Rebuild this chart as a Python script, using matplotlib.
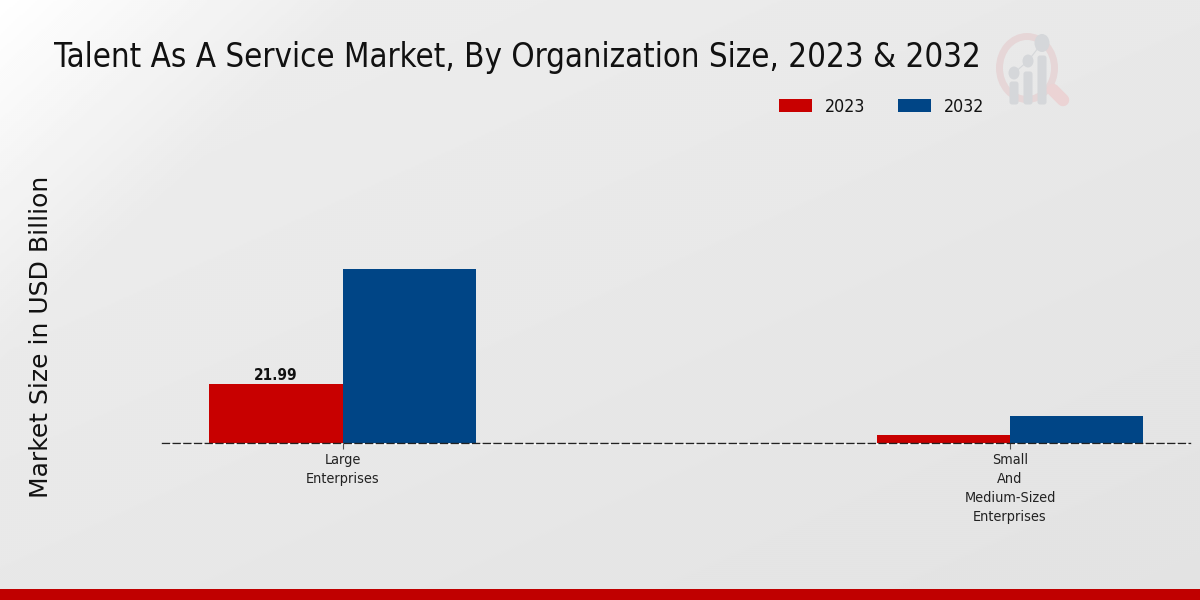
import numpy as np
import matplotlib
matplotlib.use('Agg')
import matplotlib.pyplot as plt
from matplotlib.patches import Ellipse, Rectangle, FancyBboxPatch

# datos
categorias = ['Large\nEnterprises', 'Small\nAnd\nMedium-Sized\nEnterprises']
valores_2023 = [21.99, 3.0]
valores_2032 = [64.9, 10.0]
etiquetas_valor_2023 = ['21.99', None]
anios = ['2023', '2032']
colores = ['#c80000', '#004586']

W, H = 1200, 600
fig = plt.figure(figsize=(W / 100, H / 100), dpi=100)

# fondo con degradado
fondo = fig.add_axes([0, 0, 1, 1], zorder=0)
fondo.axis('off')
yy, xx = np.mgrid[0:1:300j, 0:1:600j]
d = (xx * 2 + yy) / 3
grad = np.where(d < 0.2, 1.0 - (d / 0.2) * 0.075, 0.925 - (d - 0.2) * 0.03)
grad = grad - yy * 0.012
fondo.imshow(grad, extent=[0, W, H, 0], cmap='gray', vmin=0, vmax=1, aspect='auto', interpolation='bilinear')
fondo.set_xlim(0, W)
fondo.set_ylim(H, 0)

# barra inferior
fondo.add_patch(Rectangle((0, 589), W, 11, color='#c00000', lw=0))

# logo de marca de agua
fondo.plot([1053, 1063], [90, 100], color='#ebd3d4', lw=9, solid_capstyle='round')
fondo.add_patch(Ellipse((1027, 68), 55, 63, fill=False, ec='#e6d6d7', lw=5))
for x, y_top, y_c, w_c, h_c in [(1014, 84, 73, 11, 13), (1028, 74, 61, 11, 13), (1042, 58, 43, 15, 18)]:
    fondo.add_patch(FancyBboxPatch((x - 2, y_top), 4, 102 - y_top, boxstyle='round,pad=2.5',
                                   color='#d5d7da', lw=0))
    fondo.add_patch(Ellipse((x, y_c), w_c, h_c, color='#d5d7da', lw=0))
fondo.plot([1014, 1028, 1042], [73, 61, 43], color='#d5d7da', lw=0.8)

# linea clara bajo la base
fondo.plot([162, 1190], [444, 444], color='white', lw=0.8)

# ejes principales
ax = fig.add_axes([162 / W, 1 - 443 / H, (1190 - 162) / W, (443 - 130) / H], zorder=1)
ax.patch.set_alpha(0)
pos = np.arange(len(categorias))
ancho = 0.2
b1 = ax.bar(pos - ancho / 2, valores_2023, ancho, color=colores[0], label=anios[0])
b2 = ax.bar(pos + ancho / 2, valores_2032, ancho, color=colores[1], label=anios[1])
ax.set_xlim(-0.2708, 1.2697)
ax.set_ylim(0, 116.7)

for rect, etiqueta in zip(b1, etiquetas_valor_2023):
    if etiqueta:
        ax.annotate(etiqueta, (rect.get_x() + rect.get_width() / 2, rect.get_height()),
                    xytext=(0, 1), textcoords='offset points', ha='center', va='bottom',
                    fontsize=11, fontweight='bold', stretch='condensed', color='#111111')

ax.set_xticks(pos)
ax.set_xticklabels(categorias, fontsize=10.4, stretch='condensed', color='#222222', linespacing=1.45)
ax.tick_params(axis='x', length=4, width=0.8, color='#555555', pad=3.2)
ax.set_yticks([])
for lado in ['top', 'right', 'left']:
    ax.spines[lado].set_visible(False)
ax.spines['bottom'].set_linestyle((0, (5, 2.7)))
ax.spines['bottom'].set_linewidth(1)
ax.spines['bottom'].set_color('#222222')

# titulo, eje y y leyenda
fig.text(54 / W, 1 - 58 / H, 'Talent As A Service Market, By Organization Size, 2023 & 2032',
         fontsize=23.7, stretch='condensed', color='#111111', ha='left', va='center')
fig.text(41 / W, 1 - 337 / H, 'Market Size in USD Billion', rotation=90, fontsize=18,
         color='#111111', ha='center', va='center')
fig.legend(handles=[b1, b2], labels=anios, loc='center left',
           bbox_to_anchor=(779 / W, 1 - 106.5 / H), ncol=2, frameon=False,
           prop={'size': 12.8, 'stretch': 'condensed'}, handlelength=1.85, handleheight=0.7,
           handletextpad=0.72, columnspacing=1.85, borderpad=0, borderaxespad=0,
           labelcolor='#111111')

fig.savefig('out.png', dpi=100)
